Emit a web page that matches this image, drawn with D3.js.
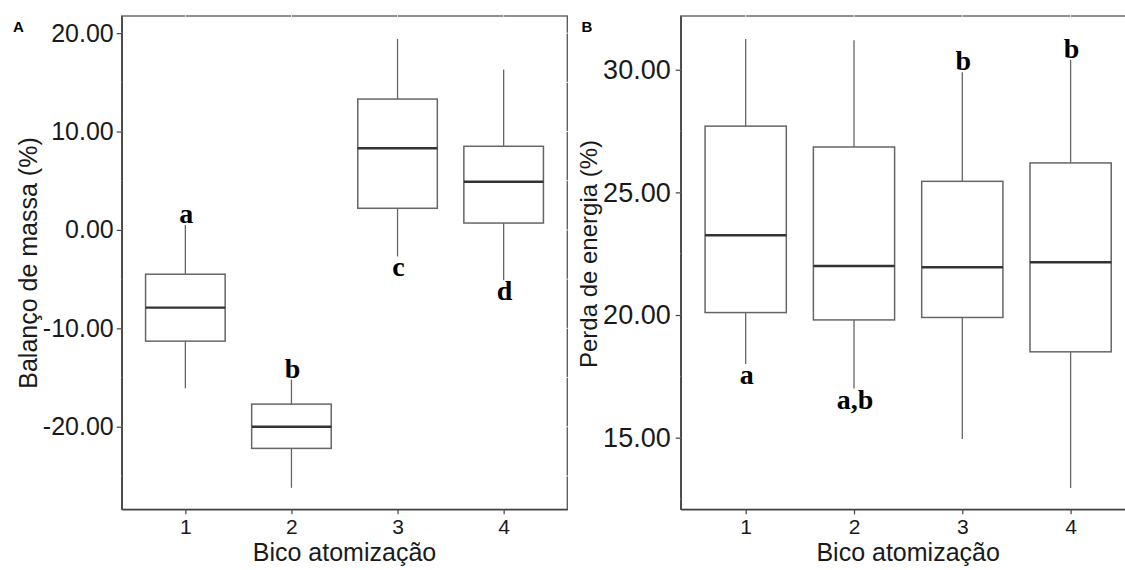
<!DOCTYPE html>
<html>
<head>
<meta charset="utf-8">
<script src="https://cdn.jsdelivr.net/npm/d3@7"></script>
<style>
  html, body { margin: 0; padding: 0; background: #fff; }
  svg { display: block; }
</style>
</head>
<body>
<svg id="chart" width="1125" height="570"></svg>
<script>
// ---------- data ----------
const categories = [1, 2, 3, 4];

// Panel A: Balanço de massa (%)
const aLow  = [-16.1, -26.2, -2.7, -5.1];
const aQ1   = [-11.3, -22.2,  2.2,  0.7];
const aMed  = [ -7.9, -20.0,  8.3,  4.9];
const aQ3   = [ -4.5, -17.7, 13.3,  8.5];
const aHigh = [  0.5, -15.2, 19.4, 16.3];
const aLetters = ["a", "b", "c", "d"];
const aLetterSide = ["top", "top", "bottom", "bottom"];
const aTicks = [-20, -10, 0, 10, 20];
const aMinor = [-25, -15, -5, 5, 15];

// Panel B: Perda de energia (%)
const bLow  = [18.0, 17.0, 14.95, 12.95];
const bQ1   = [20.1, 19.8, 19.9, 18.5];
const bMed  = [23.25, 22.0, 21.95, 22.15];
const bQ3   = [27.7, 26.85, 25.45, 26.2];
const bHigh = [31.25, 31.2, 29.9, 30.4];
const bLetters = ["a", "a,b", "b", "b"];
const bLetterSide = ["bottom", "bottom", "top", "top"];
const bTicks = [15, 20, 25, 30];
const bMinor = [12.5, 17.5, 22.5, 27.5];

const xTitle = "Bico atomização";

// ---------- drawing ----------
const svg = d3.select("#chart");
svg.append("rect").attr("width", 1125).attr("height", 570).attr("fill", "#fff");

const SANS = "Liberation Sans, Arial, sans-serif";
const SERIF = "Liberation Serif, Times New Roman, serif";

function panel(cfg) {
  const x = d3.scaleLinear().domain([0.4, 4.6]).range([cfg.left, cfg.right]);
  const y = d3.scaleLinear().domain(cfg.yDomain).range([cfg.bottom, cfg.top]);
  const g = svg.append("g");

  // panel border
  g.append("rect")
    .attr("x", cfg.left).attr("y", cfg.top)
    .attr("width", cfg.right - cfg.left).attr("height", cfg.bottom - cfg.top)
    .attr("fill", "#fff").attr("stroke", "#555").attr("stroke-width", 1.3);

  // white grid lines (cut the border, as in the reference)
  const grid = g.append("g").attr("stroke", "#fff").attr("stroke-width", 0.8);
  grid.selectAll("line.h").data(cfg.ticks.concat(cfg.minor)).join("line")
    .attr("x1", cfg.left - 1).attr("x2", cfg.right + 1)
    .attr("y1", d => y(d)).attr("y2", d => y(d));
  grid.selectAll("line.v").data(categories).join("line")
    .attr("y1", cfg.top - 1).attr("y2", cfg.bottom + 1)
    .attr("x1", d => x(d)).attr("x2", d => x(d));

  const rows = categories.map((c, i) => ({
    c, lo: cfg.low[i], q1: cfg.q1[i], med: cfg.med[i], q3: cfg.q3[i], hi: cfg.high[i],
    letter: cfg.letters[i], side: cfg.side[i]
  }));
  const hw = 0.375;

  const box = g.selectAll("g.box").data(rows).join("g").attr("class", "box");
  // whiskers
  box.append("line")
    .attr("x1", d => x(d.c)).attr("x2", d => x(d.c))
    .attr("y1", d => y(d.hi)).attr("y2", d => y(d.q3))
    .attr("stroke", "#666").attr("stroke-width", 1.3);
  box.append("line")
    .attr("x1", d => x(d.c)).attr("x2", d => x(d.c))
    .attr("y1", d => y(d.q1)).attr("y2", d => y(d.lo))
    .attr("stroke", "#666").attr("stroke-width", 1.3);
  // box
  box.append("rect")
    .attr("x", d => x(d.c - hw)).attr("width", d => x(d.c + hw) - x(d.c - hw))
    .attr("y", d => y(d.q3)).attr("height", d => y(d.q1) - y(d.q3))
    .attr("fill", "#fff").attr("stroke", "#666").attr("stroke-width", 1.5);
  // median
  box.append("line")
    .attr("x1", d => x(d.c - hw)).attr("x2", d => x(d.c + hw))
    .attr("y1", d => y(d.med)).attr("y2", d => y(d.med))
    .attr("stroke", "#333").attr("stroke-width", 2.4);
  // letters
  box.append("text")
    .attr("x", d => x(d.c) + 1)
    .attr("y", d => d.side === "top" ? y(d.hi) - 2 : y(d.lo) + 20)
    .attr("text-anchor", "middle")
    .attr("font-family", SERIF).attr("font-weight", "bold").attr("font-size", 28)
    .attr("fill", "#000")
    .text(d => d.letter);

  // axes
  const ya = g.append("g").attr("transform", `translate(${cfg.left},0)`)
    .call(d3.axisLeft(y).tickValues(cfg.ticks).tickFormat(d => d.toFixed(2))
      .tickSize(5).tickSizeOuter(0).tickPadding(cfg.yPad));
  ya.select(".domain").attr("stroke", "#444").attr("stroke-width", 1.5);
  ya.selectAll(".tick line").attr("stroke", "#444").attr("stroke-width", 1.2);
  ya.selectAll(".tick text").attr("font-family", SANS).attr("font-size", cfg.yFont).attr("fill", "#1a1a1a");

  const xa = g.append("g").attr("transform", `translate(0,${cfg.bottom})`)
    .call(d3.axisBottom(x).tickValues(categories).tickFormat(d3.format("d"))
      .tickSize(5).tickSizeOuter(0).tickPadding(5));
  xa.select(".domain").attr("stroke", "#444").attr("stroke-width", 1.5);
  xa.selectAll(".tick line").attr("stroke", "#444").attr("stroke-width", 1.2);
  xa.selectAll(".tick text").attr("font-family", SANS).attr("font-size", 21).attr("fill", "#1a1a1a");

  // titles
  svg.append("text")
    .attr("x", (cfg.left + cfg.right) / 2).attr("y", 561)
    .attr("text-anchor", "middle")
    .attr("font-family", SANS).attr("font-size", 25).attr("fill", "#1a1a1a")
    .text(xTitle);
  svg.append("text")
    .attr("transform", `translate(${cfg.yTitleX},${cfg.yTitleY}) rotate(-90)`)
    .attr("text-anchor", "middle")
    .attr("font-family", SANS).attr("font-size", cfg.yTitleFont).attr("fill", "#1a1a1a")
    .text(cfg.yTitle);
  svg.append("text")
    .attr("x", cfg.tagX).attr("y", 31.5)
    .attr("font-family", SANS).attr("font-weight", "bold").attr("font-size", 15).attr("fill", "#000")
    .text(cfg.tag);
}

panel({
  left: 121.7, right: 567.3, top: 16, bottom: 509.3,
  yDomain: [-28.39, 21.74],
  low: aLow, q1: aQ1, med: aMed, q3: aQ3, high: aHigh,
  letters: aLetters, side: aLetterSide,
  ticks: aTicks, minor: aMinor, yPad: 3, yFont: 25,
  yTitle: "Balanço de massa (%)", yTitleX: 37, yTitleY: 263, yTitleFont: 25,
  tag: "A", tagX: 13
});

panel({
  left: 680.7, right: 1135.6, top: 16, bottom: 509.3,
  yDomain: [12.08, 32.19],
  low: bLow, q1: bQ1, med: bMed, q3: bQ3, high: bHigh,
  letters: bLetters, side: bLetterSide,
  ticks: bTicks, minor: bMinor, yPad: 5, yFont: 27,
  yTitle: "Perda de energia (%)", yTitleX: 597, yTitleY: 254, yTitleFont: 24,
  tag: "B", tagX: 581.5
});
</script>
</body>
</html>
